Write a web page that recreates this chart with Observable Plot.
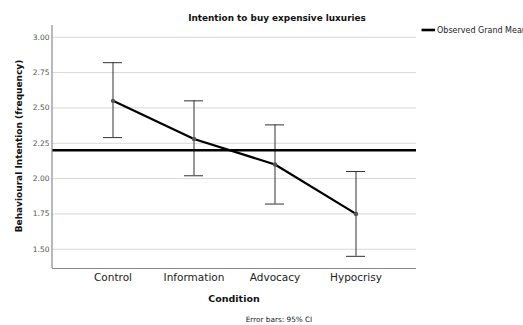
<!DOCTYPE html>
<html>
<head>
<meta charset="utf-8">
<script src="https://cdn.jsdelivr.net/npm/d3@7"></script>
<script src="https://cdn.jsdelivr.net/npm/@observablehq/plot@0.6"></script>
<style>
  body { margin: 0; background: #fff; }
  #chart { width: 523px; height: 325px; overflow: hidden; }
  #chart svg { display: block; }
  g[aria-label^="y-axis"] text { font-size: 7.5px; fill: #555; }
  g[aria-label^="x-axis"] text { font-size: 10.5px; fill: #222; }
</style>
</head>
<body>
<div id="chart"></div>
<script>
// Mean behavioural intention per condition, with 95% confidence limits
const conditions = ["Control", "Information", "Advocacy", "Hypocrisy"];
const means = [2.55, 2.28, 2.10, 1.75];
const ciLow = [2.29, 2.02, 1.82, 1.45];
const ciHigh = [2.82, 2.55, 2.38, 2.05];
const grandMean = 2.20;
const yTicks = [1.50, 1.75, 2.00, 2.25, 2.50, 2.75, 3.00];
const yDomain = [1.364, 3.083];

const rows = conditions.map((c, i) => ({condition: c, mean: means[i], low: ciLow[i], high: ciHigh[i]}));

const W = 523, H = 325;
const M = {left: 52, right: 107, top: 25, bottom: 57};
const font = "'DejaVu Sans', sans-serif";
const step = (W - M.left - M.right) / (conditions.length + 2 * 0.22);
const capInset = (step - 20) / 2;

const plot = Plot.plot({
  width: W,
  height: H,
  marginLeft: M.left,
  marginRight: M.right,
  marginTop: M.top,
  marginBottom: M.bottom,
  style: {fontFamily: font, background: "#fff", overflow: "visible"},
  x: {type: "band", domain: conditions, paddingInner: 0, paddingOuter: 0.22, label: null, tickSize: 0, tickPadding: 5},
  y: {domain: yDomain, ticks: yTicks, tickFormat: d3.format(".2f"), label: null, tickSize: 0, tickPadding: 3},
  marks: [
    Plot.ruleY(yTicks, {stroke: "#d8d8d8", strokeWidth: 1}),
    Plot.ruleY([yDomain[0]], {stroke: "#8a8a8a", strokeWidth: 1.2}),
    // confidence intervals with caps
    Plot.ruleX(rows, {x: "condition", y1: "low", y2: "high", stroke: "#333", strokeWidth: 1}),
    Plot.tickY(rows, {x: "condition", y: "low", stroke: "#333", strokeWidth: 1, insetLeft: capInset, insetRight: capInset}),
    Plot.tickY(rows, {x: "condition", y: "high", stroke: "#333", strokeWidth: 1, insetLeft: capInset, insetRight: capInset}),
    // observed grand mean
    Plot.ruleY([grandMean], {stroke: "#000", strokeWidth: 2.6}),
    // condition means
    Plot.line(rows, {x: "condition", y: "mean", stroke: "#000", strokeWidth: 2.2}),
    Plot.dot(rows, {x: "condition", y: "mean", r: 2.2, fill: "#555", stroke: "none"})
  ]
});

document.getElementById("chart").appendChild(plot);

const svg = d3.select(plot);
const plotRight = W - M.right, plotBottom = H - M.bottom;

// left axis line
svg.append("line")
  .attr("x1", M.left).attr("x2", M.left)
  .attr("y1", M.top).attr("y2", plotBottom)
  .attr("stroke", "#8a8a8a").attr("stroke-width", 1.2);

// title
svg.append("text")
  .attr("x", 277).attr("y", 20.5)
  .attr("text-anchor", "middle")
  .attr("font-family", font).attr("font-weight", "bold").attr("font-size", 8.9)
  .attr("fill", "#111")
  .text("Intention to buy expensive luxuries");

// y-axis title
svg.append("text")
  .attr("transform", `translate(22,146) rotate(-90)`)
  .attr("text-anchor", "middle")
  .attr("font-family", font).attr("font-weight", "bold").attr("font-size", 9)
  .attr("fill", "#111")
  .text("Behavioural Intention (frequency)");

// x-axis title
svg.append("text")
  .attr("x", (M.left + plotRight) / 2).attr("y", 302)
  .attr("text-anchor", "middle")
  .attr("font-family", font).attr("font-weight", "bold").attr("font-size", 9.5)
  .attr("fill", "#111")
  .text("Condition");

// caption
svg.append("text")
  .attr("x", 279).attr("y", 322)
  .attr("text-anchor", "middle")
  .attr("font-family", font).attr("font-size", 7.3)
  .attr("fill", "#222")
  .text("Error bars: 95% CI");

// legend
svg.append("line")
  .attr("x1", 421.5).attr("x2", 435).attr("y1", 30).attr("y2", 30)
  .attr("stroke", "#000").attr("stroke-width", 2.6);
svg.append("text")
  .attr("x", 437).attr("y", 33)
  .attr("text-anchor", "start")
  .attr("font-family", font).attr("font-size", 8)
  .attr("fill", "#222")
  .text("Observed Grand Mean");
</script>
</body>
</html>
